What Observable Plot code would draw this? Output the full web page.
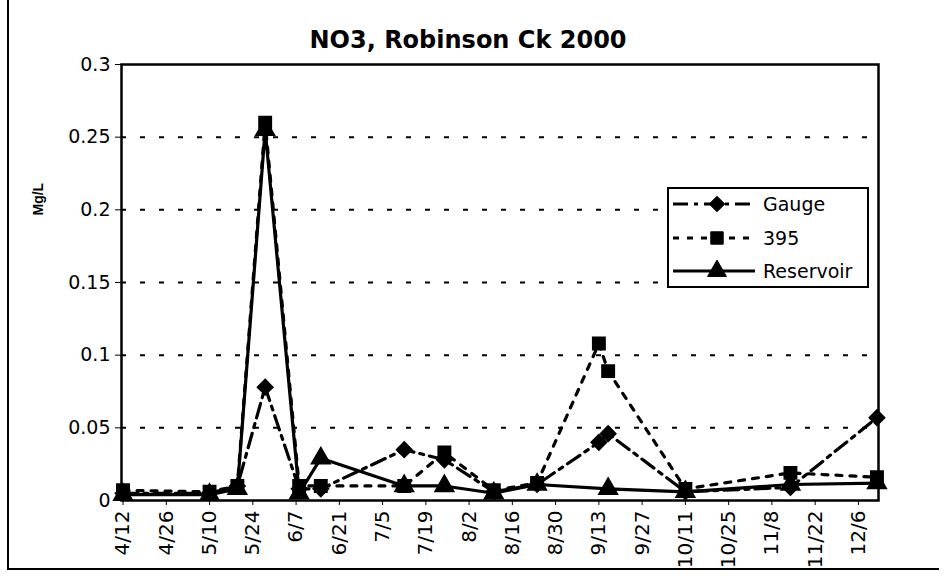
<!DOCTYPE html>
<html>
<head>
<meta charset="utf-8">
<script src="https://cdn.jsdelivr.net/npm/d3@7"></script>
<script src="https://cdn.jsdelivr.net/npm/@observablehq/plot@0.6"></script>
<style>
  html, body { margin: 0; padding: 0; background: #fff; }
  #wrap { position: relative; width: 946px; height: 579px; overflow: hidden; background: #fff; }
  #outer { position: absolute; left: 7px; top: 0; width: 930px; height: 568px; border-left: 2px solid #000; border-bottom: 2px solid #000; pointer-events: none; }
  #legend { position: absolute; left: 667px; top: 187px; }
</style>
</head>
<body>
<div id="wrap"><div id="outer"></div></div>
<script>
// ---- data ----
const title = "NO3, Robinson Ck 2000";
const yTitle = "Mg/L";
const dates = ["4/12","5/10","5/19","5/28","6/8","6/15","7/12","7/25","8/10","8/24","9/13","9/16","10/11","11/14","12/12"];
const gauge     = [0.005,0.005,0.010,0.078,0.008,0.008,0.035,0.028,0.006,0.011,0.040,0.046,0.006,0.009,0.057];
const site395   = [0.007,0.006,0.010,0.260,0.010,0.010,0.010,0.033,0.007,0.012,0.108,0.089,0.008,0.019,0.016];
const reservoir = [0.004,0.004,0.008,0.255,0.005,0.029,0.010,0.010,0.005,0.011,null,0.008,0.006,0.011,0.012];
const seriesNames = ["Gauge","395","Reservoir"];
const xTickLabels = ["4/12","4/26","5/10","5/24","6/7","6/21","7/5","7/19","8/2","8/16","8/30","9/13","9/27","10/11","10/25","11/8","11/22","12/6"];
const yTicks = [0,0.05,0.1,0.15,0.2,0.25,0.3];
const yTickLabels = ["0","0.05","0.1","0.15","0.2","0.25","0.3"];

// ---- build ----
const toDate = s => { const [m, d] = s.split("/").map(Number); return new Date(Date.UTC(2000, m - 1, d)); };
const values = [gauge, site395, reservoir];
const rows = [];
dates.forEach((s, i) => seriesNames.forEach((name, k) => {
  if (values[k][i] != null) rows.push({date: toDate(s), series: name, value: values[k][i]});
}));
const bySeries = name => rows.filter(r => r.series === name);
const half = 12 * 3600 * 1000;
const xDomain = [new Date(+toDate(dates[0]) - half), new Date(+toDate(dates[dates.length - 1]) + half)];
const xTicks = xTickLabels.map(toDate);
const xLab = new Map(xTicks.map((d, i) => [+d, xTickLabels[i]]));
const yLab = new Map(yTicks.map((t, i) => [t, yTickLabels[i]]));

const styles = {
  "Gauge":     {dash: "15,6,4,6", symbol: "diamond2", r: 7},
  "395":       {dash: "6,8",      symbol: "square",   r: 7},
  "Reservoir": {dash: null,       symbol: "triangle", r: 7}
};

const marks = [
  Plot.ruleY(yTicks.filter(t => t > 0 && t < 0.3), {stroke: "#000", strokeWidth: 2, strokeDasharray: "5,14"}),
  Plot.axisY({ticks: yTicks, tickFormat: d => yLab.get(d), tickSize: 6, tickPadding: 5, tickStrokeWidth: 2, label: null, fontSize: 19}),
  Plot.axisX({ticks: xTicks, tickFormat: d => xLab.get(+d), tickSize: 5, tickPadding: 5, tickRotate: -90, label: null, fontSize: 20}),
  Plot.frame({stroke: "#000", strokeWidth: 2.5}),
];
for (const name of seriesNames) {
  const s = styles[name];
  marks.push(Plot.line(bySeries(name), {x: "date", y: "value", stroke: "#000", strokeWidth: 3.2, strokeDasharray: s.dash}));
}
for (const name of seriesNames) {
  const s = styles[name];
  marks.push(Plot.dot(bySeries(name), {x: "date", y: "value", symbol: s.symbol, r: s.r, fill: "#000", stroke: "#000"}));
}
marks.push(Plot.text([title], {frameAnchor: "top", lineAnchor: "middle", dx: -32, dy: -24, fontSize: 24, fontWeight: "bold", fill: "#000"}));
marks.push(Plot.text([yTitle], {frameAnchor: "left", dx: -83, dy: -67, rotate: -90, fontSize: 14, fontWeight: "bold", fontFamily: "Liberation Sans", fill: "#000"}));

const chart = Plot.plot({
  width: 946, height: 579,
  marginLeft: 121, marginRight: 68, marginTop: 64, marginBottom: 79,
  style: {fontFamily: "DejaVu Sans", color: "#000", background: "transparent"},
  x: {type: "utc", domain: xDomain},
  y: {domain: [0, 0.3]},
  marks
});
chart.style.position = "absolute";
chart.style.left = "0px";
chart.style.top = "0px";
document.getElementById("wrap").appendChild(chart);

// ---- legend ----
const lw = 202, lh = 101;
const leg = d3.select("#wrap").append("svg").attr("id", "legend").attr("width", lw).attr("height", lh);
leg.append("rect").attr("x", 1).attr("y", 1).attr("width", lw - 2).attr("height", lh - 2)
  .attr("fill", "#fff").attr("stroke", "#000").attr("stroke-width", 2);
const rowY = [17, 51, 84];
seriesNames.forEach((name, i) => {
  const s = styles[name];
  const g = leg.append("g").attr("transform", `translate(0,${rowY[i]})`);
  g.append("line").attr("x1", 6).attr("x2", 88).attr("y1", 0).attr("y2", 0)
    .attr("stroke", "#000").attr("stroke-width", 3.2).attr("stroke-dasharray", s.dash);
  const symType = {diamond2: d3.symbolDiamond2, square: d3.symbolSquare, triangle: d3.symbolTriangle}[s.symbol];
  g.append("path").attr("transform", "translate(50,0)")
    .attr("d", d3.symbol(symType, Math.PI * s.r * s.r)()).attr("fill", "#000").attr("stroke", "#000");
  g.append("text").attr("x", 96).attr("y", 0).attr("dy", "0.35em")
    .attr("font-family", "DejaVu Sans").attr("font-size", 19).text(name);
});
</script>
</body>
</html>
